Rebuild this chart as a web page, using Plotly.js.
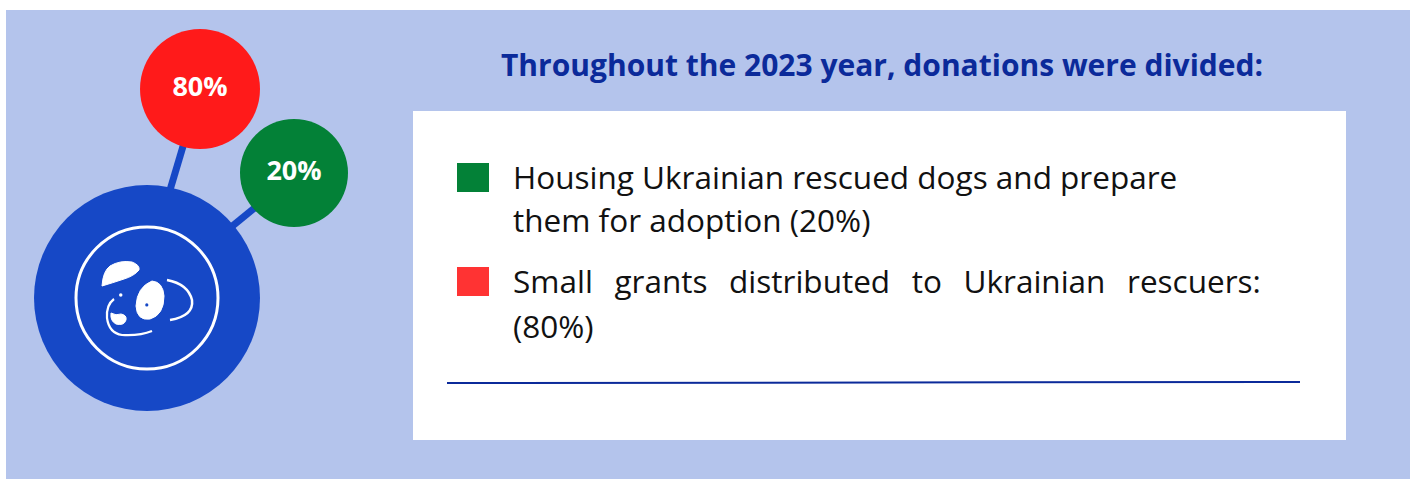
<!DOCTYPE html>
<html>
<head>
<meta charset="utf-8">
<script src="https://cdn.plot.ly/plotly-3.0.1.min.js"></script>
<style>
  html, body { margin: 0; padding: 0; background: #ffffff; }
  #chart { width: 1416px; height: 479px; }
</style>
</head>
<body>
<div id="chart"></div>
<script>
// data
let titleText = "Throughout the 2023 year, donations were divided:";
let shares = [80, 20];
let shareLabels = ["80%", "20%"];
let shareColors = ["#ff1a1a", "#038137"];
let legendLines = [
  ["Housing Ukrainian rescued dogs and prepare", "them for adoption (20%)"],
  ["Small grants distributed to Ukrainian rescuers:", "(80%)"]
];
let legendColors = ["#038137", "#ff3333"];

// bubble placement (pixel space, y down)
let bubbleX = [200, 294];
let bubbleY = [89, 173];
let bubbleSize = [120, 108];

let navy = "#0b2a9a";
let blue = "#1648c6";
let panel = "#b4c4ec";

let shapes = [];
// background panel + white card
shapes.push({type: "rect", xref: "x", yref: "y", layer: "below", x0: 6, x1: 1410, y0: 10, y1: 479, fillcolor: panel, line: {width: 0}});
shapes.push({type: "rect", xref: "x", yref: "y", layer: "below", x0: 413, x1: 1346, y0: 111, y1: 440, fillcolor: "#ffffff", line: {width: 0}});
// connectors
shapes.push({type: "line", layer: "below", x0: 184, y0: 143, x1: 170, y1: 190, line: {color: blue, width: 7}});
shapes.push({type: "line", layer: "below", x0: 257, y0: 206, x1: 230, y1: 228, line: {color: blue, width: 7}});
// big blue circle with ring
shapes.push({type: "circle", layer: "below", x0: 147 - 113, x1: 147 + 113, y0: 298 - 113, y1: 298 + 113, fillcolor: blue, line: {width: 0}});
shapes.push({type: "circle", layer: "above", x0: 147 - 71, x1: 147 + 71, y0: 298 - 71, y1: 298 + 71, line: {color: "#ffffff", width: 3}});
// dog icon
let white = "#ffffff";
shapes.push({type: "path", layer: "above", path: "M 102 286 Q 103 271 110 266 Q 120 260 132 262 Q 140 265 139 270 Q 134 276 124 279 Q 112 283 102 286 Z", fillcolor: white, line: {color: white, width: 1}});
shapes.push({type: "circle", layer: "above", x0: 119, x1: 122.5, y0: 293.3, y1: 296.8, fillcolor: white, line: {width: 0}});
shapes.push({type: "path", layer: "above", path: "M 152 281 Q 163 282 164 296 Q 164 315 150 319 Q 137 321 136 306 Q 137 287 152 281 Z", fillcolor: white, line: {color: white, width: 1}});
shapes.push({type: "circle", layer: "above", x0: 145.2, x1: 148.4, y0: 303.3, y1: 306.5, fillcolor: blue, line: {width: 0}});
shapes.push({type: "path", layer: "above", path: "M 111 313 Q 116 316 121 314 Q 127 315 126 320 Q 124 326 116 324 Q 110 321 111 313 Z", fillcolor: white, line: {color: white, width: 1}});
shapes.push({type: "path", layer: "above", path: "M 167 280 Q 188 284 192 300 Q 194 316 170 320", line: {color: white, width: 2.5}});
shapes.push({type: "path", layer: "above", path: "M 114 299 Q 106 305 107 318 Q 109 333 122 335 Q 140 336 152 331", line: {color: white, width: 2.2}});
// underline in the card
shapes.push({type: "line", layer: "above", x0: 447, x1: 1300, y0: 383, y1: 382, line: {color: navy, width: 2}});

let annotations = [];
annotations.push({x: 882, y: 64, xref: "x", yref: "y", text: "<b>" + titleText + "</b>", showarrow: false,
  font: {family: "Open Sans, sans-serif", size: 30, color: navy}, xanchor: "center", yanchor: "middle"});

let rowTop = [163, 267];
let rowGap = [43, 45];
for (let i = 0; i < legendLines.length; i++) {
  shapes.push({type: "rect", layer: "above", x0: 457, x1: 489, y0: rowTop[i], y1: rowTop[i] + 29, fillcolor: legendColors[i], line: {width: 0}});
  for (let j = 0; j < legendLines[i].length; j++) {
    let t = legendLines[i][j];
    // second item's first line is justified in the original
    if (i == 1 && j == 0) t = t.split(" ").join("\u00a0\u00a0\u2009");
    annotations.push({x: 511, y: rowTop[i] + 13 + j * rowGap[i], xref: "x", yref: "y", text: t, showarrow: false,
      font: {family: "Open Sans, sans-serif", size: 31.5, color: "#111111"}, xanchor: "left", yanchor: "middle"});
  }
}

let data = [{
  x: bubbleX,
  y: bubbleY,
  mode: "markers+text",
  type: "scatter",
  text: shareLabels.map((s) => "<b>" + s + "</b>"),
  customdata: shares,
  textposition: "middle center",
  textfont: {family: "Open Sans, sans-serif", size: 27, color: "#ffffff"},
  marker: {size: bubbleSize, color: shareColors, opacity: 1, line: {width: 0}},
  hoverinfo: "skip"
}];

let layout = {
  width: 1416, height: 479,
  margin: {l: 0, r: 0, t: 0, b: 0},
  paper_bgcolor: "#ffffff",
  plot_bgcolor: "rgba(0,0,0,0)",
  xaxis: {range: [0, 1416], visible: false, fixedrange: true},
  yaxis: {range: [479, 0], visible: false, fixedrange: true},
  showlegend: false,
  shapes: shapes,
  annotations: annotations
};

Plotly.newPlot("chart", data, layout, {displayModeBar: false, staticPlot: true});
</script>
</body>
</html>
